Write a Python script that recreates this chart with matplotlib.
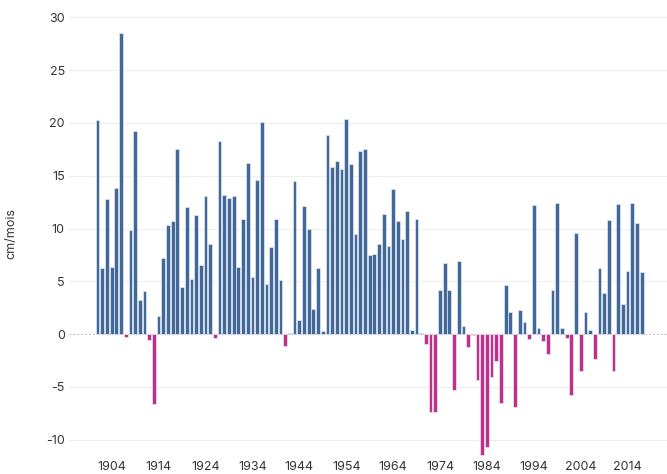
import matplotlib
matplotlib.use("Agg")
import matplotlib.pyplot as plt
import numpy as np

years = list(range(1901, 2018))
values = [
    20.3, 6.3, 12.8, 6.35, 13.8, 28.5, -0.3, 9.9, 19.2, 3.2,      # 1901-1910
    4.1, -0.55, -6.65, 1.7, 7.2, 10.3, 10.7, 17.5, 4.45, 12.0,   # 1911-1920
    5.25, 11.3, 6.5, 13.1, 8.5, -0.4, 18.3, 13.2, 12.9, 13.05,   # 1921-1930
    6.35, 10.9, 16.2, 5.4, 14.6, 20.1, 4.75, 8.25, 10.9, 5.1,    # 1931-1940
    -1.1, 0.1, 14.5, 1.35, 12.1, 10.0, 2.37, 6.25, 0.25, 18.9,   # 1941-1950
    15.8, 16.4, 15.6, 20.4, 16.1, 9.45, 17.35, 17.55, 7.5, 7.6,  # 1951-1960
    8.55, 11.4, 8.3, 13.7, 10.75, 9.05, 11.7, 0.38, 10.9, 0.05,  # 1961-1970
    -0.98, -7.4, -7.4, 4.2, 6.76, 4.17, -5.34, 6.95, 0.79, -1.2, # 1971-1980
    -0.05, -4.36, -11.5, -10.7, -4.1, -2.53, -6.57, 4.6, 2.08, -6.89,  # 1981-1990
    2.27, 1.1, -0.5, 12.2, 0.6, -0.66, -1.9, 4.17, 12.4, 0.54,   # 1991-2000
    -0.35, -5.78, 9.54, -3.5, 2.08, 0.41, -2.4, 6.22, 3.89, 10.77,  # 2001-2010
    -3.54, 12.3, 2.87, 5.97, 12.45, 10.5, 5.85,                  # 2011-2017
]
xticks = [1904, 1914, 1924, 1934, 1944, 1954, 1964, 1974, 1984, 1994, 2004, 2014]
yticks = [-10, -5, 0, 5, 10, 15, 20, 25, 30]
ylabel = "cm/mois"

plt.rcParams['font.family'] = ['Inter', 'DejaVu Sans']

fig = plt.figure(figsize=(6.67, 4.74), dpi=100)
ax = fig.add_axes([69/667, 1 - 458.5/474, 598/667, 450.5/474])

pos_color = '#416899'
neg_color = '#c0308a'
colors = [pos_color if v >= 0 else neg_color for v in values]
ax.bar(years, values, width=0.8, color=colors, edgecolor='#e4eaf2', linewidth=0.5, zorder=3)

ax.set_xlim(1894.9, 2022.4)
ax.set_ylim(-11.8, 30.9)
ax.set_yticks(yticks)
ax.set_yticklabels([str(t) for t in yticks])
ax.set_xticks(xticks)
ax.set_xticklabels([str(t) for t in xticks])

for t in yticks:
    if t == 0:
        ax.axhline(0, color='#c8c8c8', linewidth=0.8, linestyle=(0, (2, 1.5)), zorder=1)
    else:
        ax.axhline(t, color='#eeeeee', linewidth=0.8, zorder=1)

for s in ax.spines.values():
    s.set_visible(False)
ax.tick_params(axis='both', length=0, labelsize=9, colors='#333333')
ax.tick_params(axis='y', pad=3)
ax.tick_params(axis='x', pad=1.5)
ax.set_ylabel(ylabel, fontsize=9, color='#333333')
ax.yaxis.set_label_coords(-0.087, 0.5)

fig.savefig('out.png', dpi=100)
